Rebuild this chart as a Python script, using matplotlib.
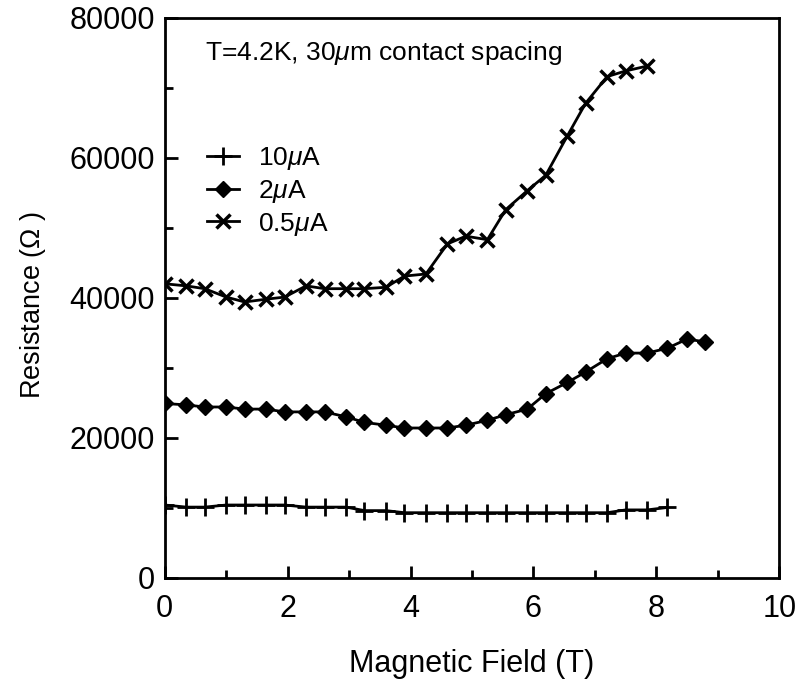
import numpy as np
import matplotlib
matplotlib.use("Agg")
import matplotlib.pyplot as plt
from matplotlib.ticker import MultipleLocator

plt.rcParams['font.family'] = ['Liberation Sans', 'DejaVu Sans']
plt.rcParams['mathtext.fontset'] = 'custom'
plt.rcParams['mathtext.it'] = 'Liberation Sans:italic'
plt.rcParams['mathtext.rm'] = 'Liberation Sans'

# Data
field = [0, 0.35, 0.65, 1.0, 1.3, 1.65, 1.95, 2.3, 2.6, 2.95, 3.25, 3.6, 3.9, 4.25,
         4.6, 4.9, 5.25, 5.55, 5.9, 6.2, 6.55, 6.85, 7.2, 7.5, 7.85, 8.18, 8.5, 8.8]

r_10uA = [10400, 10100, 10100, 10400, 10400, 10400, 10400, 10100, 10100, 10100,
          9600, 9600, 9300, 9300, 9300, 9300, 9300, 9300, 9300, 9300, 9300, 9300,
          9300, 9700, 9700, 10050]

r_2uA = [24900, 24700, 24400, 24400, 24100, 24100, 23700, 23700, 23700, 23000,
         22200, 21800, 21400, 21400, 21400, 21800, 22500, 23300, 24100, 26300,
         27900, 29400, 31300, 32100, 32100, 32800, 34100, 33700]

r_05uA = [42000, 41700, 41300, 40100, 39400, 39800, 40100, 41700, 41300, 41300,
          41300, 41500, 43100, 43400, 47700, 48800, 48300, 52600, 55300, 57500,
          63100, 67800, 71600, 72400, 73100]

fig = plt.figure(figsize=(8.0, 6.83), dpi=100)
ax = fig.add_axes([0.206, 0.154, 0.768, 0.82])

ax.plot(field[:len(r_10uA)], r_10uA, color='black', lw=2, marker='+', ms=13, mew=2,
        label=r'10$\mu$A')
ax.plot(field[:len(r_2uA)], r_2uA, color='black', lw=2, marker='D', ms=8,
        label=r'2$\mu$A')
ax.plot(field[:len(r_05uA)], r_05uA, color='black', lw=2, marker='x', ms=10, mew=2.5,
        label=r'0.5$\mu$A')

ax.set_xlim(0, 10)
ax.set_ylim(0, 80000)
ax.xaxis.set_major_locator(MultipleLocator(2))
ax.xaxis.set_minor_locator(MultipleLocator(1))
ax.yaxis.set_major_locator(MultipleLocator(20000))
ax.yaxis.set_minor_locator(MultipleLocator(10000))
ax.tick_params(which='both', direction='in', width=2, labelsize=22)
ax.tick_params(axis='x', pad=12)
ax.tick_params(axis='y', pad=7)
ax.tick_params(which='major', length=9)
ax.tick_params(which='minor', length=6)
for s in ax.spines.values():
    s.set_linewidth(2)

ax.set_xlabel('Magnetic Field (T)', fontsize=22, labelpad=18)
ax.set_ylabel('Resistance ($\\Omega$ )', fontsize=19.5)
ax.yaxis.set_label_coords(-0.19, 0.487)

ax.text(0.065, 0.962, r'T=4.2K, 30$\mu$m contact spacing', transform=ax.transAxes,
        fontsize=19, va='top')

ax.legend(loc='upper left', bbox_to_anchor=(0.03, 0.815), frameon=False, fontsize=19,
          handlelength=1.2, handletextpad=0.75, labelspacing=0.22)

fig.savefig('out.png', dpi=100)
